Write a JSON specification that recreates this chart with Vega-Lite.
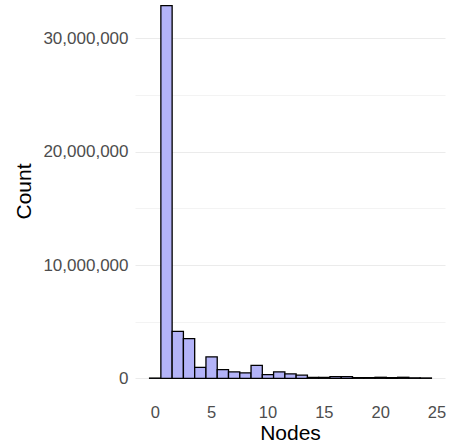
{
  "$schema": "https://vega.github.io/schema/vega-lite/v6.json",
  "width": 310,
  "height": 397,
  "autosize": "none",
  "padding": {"left": 135, "top": 0, "right": 8, "bottom": 47},
  "background": "white",
  "config": {"view": {"stroke": null}, "font": "Liberation Sans"},
  "data": {
    "values": [
      {"nodes": 0, "count": 20000},
      {"nodes": 1, "count": 32900000},
      {"nodes": 2, "count": 4150000},
      {"nodes": 3, "count": 3500000},
      {"nodes": 4, "count": 970000},
      {"nodes": 5, "count": 1900000},
      {"nodes": 6, "count": 770000},
      {"nodes": 7, "count": 570000},
      {"nodes": 8, "count": 480000},
      {"nodes": 9, "count": 1150000},
      {"nodes": 10, "count": 330000},
      {"nodes": 11, "count": 570000},
      {"nodes": 12, "count": 390000},
      {"nodes": 13, "count": 280000},
      {"nodes": 14, "count": 80000},
      {"nodes": 15, "count": 80000},
      {"nodes": 16, "count": 150000},
      {"nodes": 17, "count": 150000},
      {"nodes": 18, "count": 60000},
      {"nodes": 19, "count": 60000},
      {"nodes": 20, "count": 90000},
      {"nodes": 21, "count": 50000},
      {"nodes": 22, "count": 90000},
      {"nodes": 23, "count": 40000},
      {"nodes": 24, "count": 30000}
    ]
  },
  "mark": {"type": "bar", "fill": "#b3b3f8", "fillOpacity": 1, "stroke": "black", "strokeWidth": 1.3, "binSpacing": 0},
  "encoding": {
    "x": {
      "field": "nodes",
      "type": "quantitative",
      "bin": {"step": 1, "extent": [-0.5, 24.5], "nice": false},
      "scale": {"domain": [-1.75, 25.75]},
      "axis": {
        "title": "Nodes",
        "values": [0, 5, 10, 15, 20, 25],
        "format": "d",
        "domain": false,
        "ticks": false,
        "grid": false,
        "labelFlush": false,
        "labelOverlap": false,
        "labelFontSize": 16.5,
        "labelColor": "#4d4d4d",
        "labelPadding": 7,
        "titleFontSize": 21,
        "titleFontWeight": "normal",
        "titleColor": "black",
        "titlePadding": 2
      }
    },
    "y": {
      "field": "count",
      "aggregate": "sum",
      "type": "quantitative",
      "scale": {"domain": [-1650000, 33390000], "nice": false},
      "axis": {
        "title": "Count",
        "values": [0, 5000000, 10000000, 15000000, 20000000, 25000000, 30000000],
        "labelExpr": "datum.value % 10000000 === 0 ? format(datum.value, ',') : ''",
        "domain": false,
        "ticks": false,
        "grid": true,
        "gridColor": "#ebebeb",
        "gridWidth": {"condition": {"test": "datum.value % 10000000 === 0", "value": 1.2}, "value": 0.6},
        "labelFontSize": 17,
        "labelColor": "#4d4d4d",
        "labelPadding": 7,
        "labelOverlap": false,
        "titleFontSize": 21,
        "titleFontWeight": "normal",
        "titleColor": "black",
        "titlePadding": 8,
        "titleY": 191
      }
    }
  }
}
